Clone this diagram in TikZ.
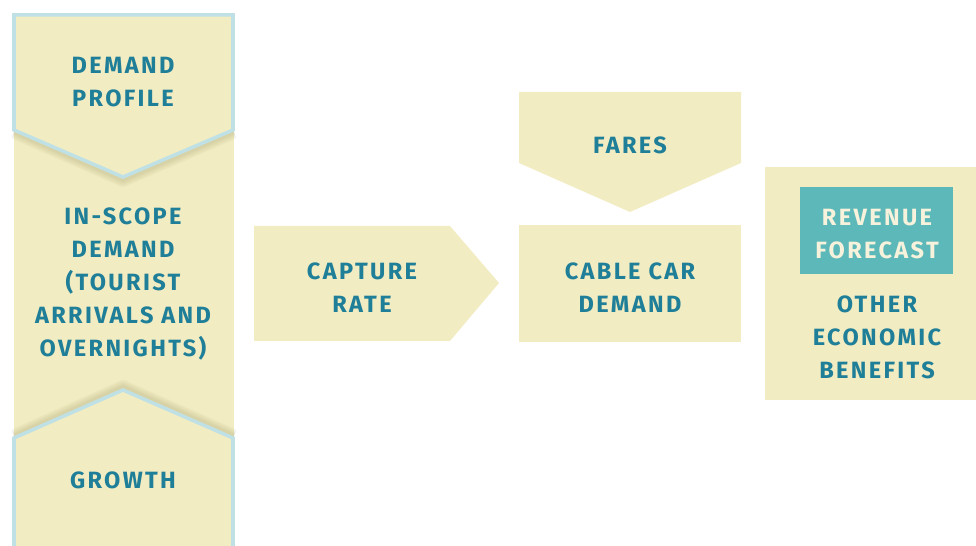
\documentclass[tikz,border=0pt]{standalone}
\usepackage{fontspec}
\usepackage{xcolor}
\usepackage{tikz}
\usetikzlibrary{calc}

\newfontfamily\boxfont[LetterSpace=10]{Fira Sans}

\definecolor{cream}{HTML}{F2ECC2}
\definecolor{rimblue}{HTML}{BFE1E5}
\definecolor{textblue}{HTML}{1F7E98}
\definecolor{teal}{HTML}{5DB8B9}
\definecolor{lighttext}{HTML}{F6F2DC}
\definecolor{shadowtan}{HTML}{8E8455}

\begin{document}
\begin{tikzpicture}[x=0.02cm,y=-0.02cm]
        % Styles for the boxes and their texts
        \tikzstyle{boxtext}=[text=textblue, align=center, inner sep=0pt,
            font=\boxfont\bfseries\fontsize{13.4}{18.7}\selectfont];
        \tikzstyle{rim}=[draw=rimblue, line width=2pt, line join=miter];
        \tikzstyle{soft shadow}=[draw=shadowtan, opacity=0.05, line join=round];

        \useasboundingbox (0,0) rectangle (976,546);

        % Left column, one long strip
        \fill[cream] (14,14) rectangle (234,546);

        % Shadows cast by the two chevrons onto the strip
        \foreach \w in {2,3.5,...,8} {
            \draw[soft shadow, line width=\w pt] (14,132) -- (123,180) -- (234,132);
            \draw[soft shadow, line width=\w pt] (14,436) -- (123,387) -- (234,436);
        }

        % Demand profile, pointing down
        \coordinate (P1) at (14,15);
        \coordinate (P2) at (233,15);
        \coordinate (P3) at (233,130);
        \coordinate (P4) at (123,177);
        \coordinate (P5) at (14,130);
        \fill[cream] (P1) -- (P2) -- (P3) -- (P4) -- (P5) -- cycle;
        \draw[rim] (P1) -- (P2) -- (P3) -- (P4) -- (P5) -- cycle;

        % Growth, pointing up
        \coordinate (G1) at (14,560);
        \coordinate (G2) at (14,438);
        \coordinate (G3) at (123,390);
        \coordinate (G4) at (233,438);
        \coordinate (G5) at (233,560);
        \fill[cream] (G1) -- (G2) -- (G3) -- (G4) -- (G5) -- cycle;
        \draw[rim] (G1) -- (G2) -- (G3) -- (G4) -- (G5);

        \node[boxtext] (profile) at (123,82) {DEMAND\\PROFILE};
        \node[boxtext] (inscope) at (123,284) {IN-SCOPE\\DEMAND\\(TOURIST\\ARRIVALS AND\\OVERNIGHTS)};
        \node[boxtext] (growth) at (123,480) {GROWTH};

        % Capture rate, pointing right
        \fill[cream] (254,226) -- (450,226) -- (499,283) -- (450,341) -- (254,341) -- cycle;
        \node[boxtext] (capture) at (362,288) {CAPTURE\\RATE};

        % Fares, pointing down onto the demand box
        \fill[cream] (519,92) -- (741,92) -- (741,163) -- (630,212) -- (519,163) -- cycle;
        \node[boxtext] (fares) at (630,145) {FARES};

        % Cable car demand
        \fill[cream] (519,225) rectangle (741,342);
        \node[boxtext] (cablecar) at (630,288) {CABLE CAR\\DEMAND};

        % Outputs
        \fill[cream] (765,167) rectangle (990,400);
        \fill[teal] (800,187) rectangle (953,274);
        \node[boxtext, text=lighttext] (revenue) at (877,234) {REVENUE\\FORECAST};
        \node[boxtext] (benefits) at (877,337) {OTHER\\ECONOMIC\\BENEFITS};

    \end{tikzpicture}
\end{document}
